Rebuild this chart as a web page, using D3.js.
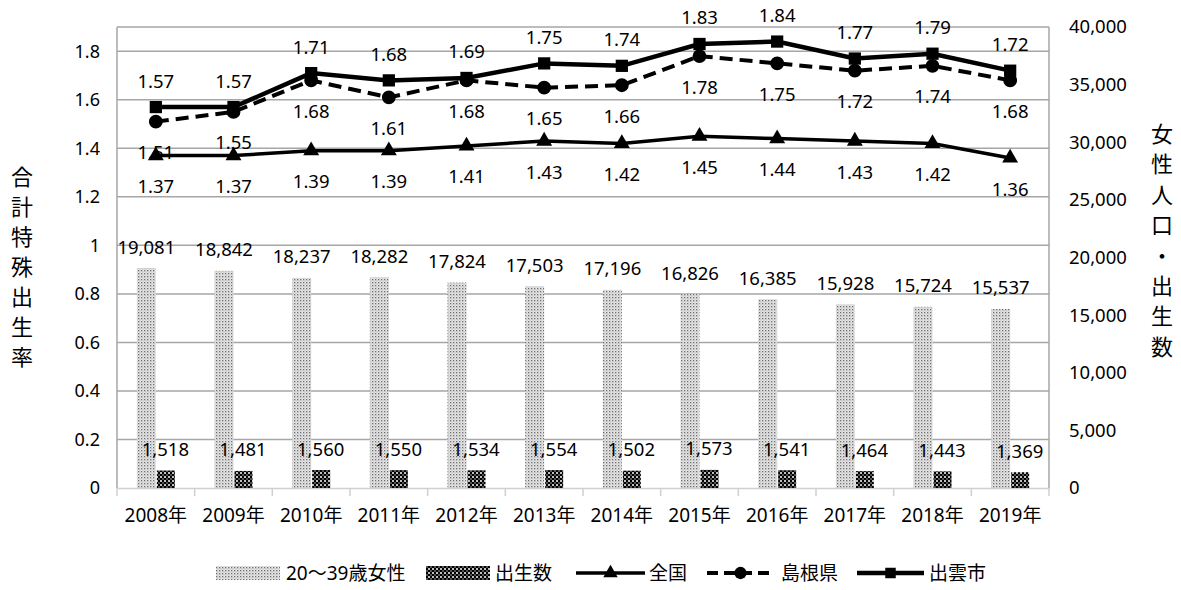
<!DOCTYPE html>
<html>
<head>
<meta charset="utf-8">
<script src="https://cdn.jsdelivr.net/npm/d3@7"></script>
<style>
  html, body { margin: 0; padding: 0; background: #fff; }
  svg { display: block; font-family: "Noto Sans", "Noto Sans CJK JP", sans-serif; }
</style>
</head>
<body>
<svg id="chart" width="1181" height="590"></svg>
<script>
// Fiscal years
const years = ["2008年","2009年","2010年","2011年","2012年","2013年","2014年","2015年","2016年","2017年","2018年","2019年"];
// Women aged 20–39 (right axis)
const women2039 = [19081, 18842, 18237, 18282, 17824, 17503, 17196, 16826, 16385, 15928, 15724, 15537];
// Births (right axis)
const births = [1518, 1481, 1560, 1550, 1534, 1554, 1502, 1573, 1541, 1464, 1443, 1369];
// Total fertility rate (left axis)
const tfrNation = [1.37, 1.37, 1.39, 1.39, 1.41, 1.43, 1.42, 1.45, 1.44, 1.43, 1.42, 1.36];
const tfrShimane = [1.51, 1.55, 1.68, 1.61, 1.68, 1.65, 1.66, 1.78, 1.75, 1.72, 1.74, 1.68];
const tfrIzumo = [1.57, 1.57, 1.71, 1.68, 1.69, 1.75, 1.74, 1.83, 1.84, 1.77, 1.79, 1.72];
// Axis ticks
const leftTicks = [0, 0.2, 0.4, 0.6, 0.8, 1, 1.2, 1.4, 1.6, 1.8];
const rightTicks = [0, 5000, 10000, 15000, 20000, 25000, 30000, 35000, 40000];

const svg = d3.select("#chart");
const L = 117, R = 1049, T = 27, B = 488;

const x = d3.scaleBand().domain(years).range([L, R]);
const yL = d3.scaleLinear().domain([0, 1.9]).range([B, T]);
const yR = d3.scaleLinear().domain([0, 40000]).range([B, T]);
const fmt = d3.format(",");
const fmtR = d3.format(".2f");

// Fill patterns for the two bar series
const defs = svg.append("defs");
const pLight = defs.append("pattern").attr("id", "pat-women")
  .attr("patternUnits", "userSpaceOnUse").attr("width", 3).attr("height", 3);
pLight.append("rect").attr("width", 3).attr("height", 3).attr("fill", "#e6e6e6");
pLight.append("rect").attr("x", 0).attr("y", 0).attr("width", 1.3).attr("height", 1.3).attr("fill", "#6e6e6e");
pLight.append("rect").attr("x", 1.5).attr("y", 1.5).attr("width", 1).attr("height", 1).attr("fill", "#a8a8a8");

const pDark = defs.append("pattern").attr("id", "pat-births")
  .attr("patternUnits", "userSpaceOnUse").attr("width", 4).attr("height", 4);
pDark.append("rect").attr("width", 4).attr("height", 4).attr("fill", "#000");
pDark.append("circle").attr("cx", 1).attr("cy", 1).attr("r", 1).attr("fill", "#fff");
pDark.append("circle").attr("cx", 3).attr("cy", 3).attr("r", 0.8).attr("fill", "#bbb");

// Gridlines on the left-axis ticks
svg.append("g").selectAll("line").data(leftTicks.filter(d => d > 0)).join("line")
  .attr("x1", L).attr("x2", R)
  .attr("y1", d => yL(d)).attr("y2", d => yL(d))
  .attr("stroke", "#a6a6a6").attr("stroke-width", 1.5);

// Plot frame
svg.append("line").attr("x1", L).attr("x2", R).attr("y1", T).attr("y2", T)
  .attr("stroke", "#a6a6a6").attr("stroke-width", 1.5);
svg.append("line").attr("x1", L).attr("x2", L).attr("y1", T).attr("y2", B)
  .attr("stroke", "#a6a6a6").attr("stroke-width", 1.5);
svg.append("line").attr("x1", R).attr("x2", R).attr("y1", T).attr("y2", B)
  .attr("stroke", "#a6a6a6").attr("stroke-width", 1.5);

// Bottom axis
const xAxis = svg.append("g").attr("transform", `translate(0,${B})`)
  .call(d3.axisBottom(x).tickSize(0).tickPadding(21));
xAxis.select(".domain").attr("stroke", "#d0d0d0").attr("stroke-width", 1.5);
xAxis.selectAll("text").attr("font-size", 19).attr("fill", "#000")
  .attr("font-family", "'Noto Sans', 'Noto Sans CJK JP', sans-serif");
const bounds = years.map(d => x(d)).concat([R]);
svg.append("g").selectAll("line").data(bounds).join("line")
  .attr("x1", d => d).attr("x2", d => d).attr("y1", B).attr("y2", B + 8)
  .attr("stroke", "#d0d0d0").attr("stroke-width", 1.5);

// Left axis
const yAxisL = svg.append("g").attr("transform", `translate(${L},0)`)
  .call(d3.axisLeft(yL).tickValues(leftTicks).tickSize(0).tickPadding(17).tickFormat(d => d3.format("")(d)));
yAxisL.select(".domain").remove();
yAxisL.selectAll("text").attr("font-size", 18).attr("fill", "#000")
  .attr("font-family", "'Noto Sans', sans-serif");

// Right axis
const yAxisR = svg.append("g").attr("transform", `translate(${R},0)`)
  .call(d3.axisRight(yR).tickValues(rightTicks).tickSize(0).tickPadding(20).tickFormat(fmt));
yAxisR.select(".domain").remove();
yAxisR.selectAll("text").attr("font-size", 18.5).attr("fill", "#000")
  .attr("font-family", "'Noto Sans', sans-serif");

// Bars: women 20–39 and births, side by side in each year
const barW = 19;
const cx = d => x(d) + x.bandwidth() / 2;
svg.append("g").selectAll("rect").data(years).join("rect")
  .attr("x", d => cx(d) - barW)
  .attr("y", (d, i) => yR(women2039[i]))
  .attr("width", barW)
  .attr("height", (d, i) => B - yR(women2039[i]))
  .attr("fill", "url(#pat-women)");
svg.append("g").selectAll("rect").data(years).join("rect")
  .attr("x", d => cx(d) + 1)
  .attr("y", (d, i) => yR(births[i]))
  .attr("width", barW - 1)
  .attr("height", (d, i) => B - yR(births[i]))
  .attr("fill", "url(#pat-births)");

// Bar value labels
const lblFont = 18.5;
svg.append("g").selectAll("text").data(years).join("text")
  .attr("x", d => cx(d) - barW / 2)
  .attr("y", (d, i) => yR(women2039[i]) - 22)
  .attr("text-anchor", "middle").attr("dominant-baseline", "central")
  .attr("font-size", lblFont)
  .text((d, i) => fmt(women2039[i]));
svg.append("g").selectAll("text").data(years).join("text")
  .attr("x", d => cx(d) + barW / 2)
  .attr("y", (d, i) => yR(births[i]) - 22)
  .attr("text-anchor", "middle").attr("dominant-baseline", "central")
  .attr("font-size", lblFont)
  .text((d, i) => fmt(births[i]));

// Fertility-rate lines
const line = d3.line().x((d, i) => cx(years[i])).y(d => yL(d));

function drawSeries(values, opts) {
  const g = svg.append("g");
  g.append("path").datum(values).attr("d", line)
    .attr("fill", "none").attr("stroke", "#000").attr("stroke-width", opts.width)
    .attr("stroke-dasharray", opts.dash || null);
  g.selectAll(".m").data(values).join("path").attr("class", "m")
    .attr("transform", (d, i) => `translate(${cx(years[i])},${yL(d)})`)
    .attr("d", d3.symbol().type(opts.symbol).size(opts.size))
    .attr("fill", "#000");
  g.selectAll("text").data(values).join("text")
    .attr("x", (d, i) => cx(years[i]))
    .attr("y", d => yL(d) + opts.labelDy)
    .attr("text-anchor", "middle").attr("dominant-baseline", "central")
    .attr("font-size", lblFont)
    .text(d => fmtR(d));
}

drawSeries(tfrNation, { width: 3.5, symbol: d3.symbolTriangle, size: 110, labelDy: 30 });
drawSeries(tfrShimane, { width: 4, dash: "13,7", symbol: d3.symbolCircle, size: 150, labelDy: 30 });
drawSeries(tfrIzumo, { width: 4.5, symbol: d3.symbolSquare, size: 150, labelDy: -27 });

// Axis titles, set vertically one character per line
const titleL = "合計特殊出生率".split("");
svg.append("g").selectAll("text").data(titleL).join("text")
  .attr("x", 22).attr("y", (d, i) => 175 + i * 30)
  .attr("text-anchor", "middle").attr("dominant-baseline", "central")
  .attr("font-size", 22).attr("font-family", "'Noto Sans CJK JP', sans-serif")
  .text(d => d);
const titleR = "女性人口・出生数".split("");
svg.append("g").selectAll("text").data(titleR).join("text")
  .attr("x", 1162).attr("y", (d, i) => 132 + i * 30.4)
  .attr("text-anchor", "middle").attr("dominant-baseline", "central")
  .attr("font-size", 22).attr("font-family", "'Noto Sans CJK JP', sans-serif")
  .text(d => d);

// Legend
const legY = 573;
const leg = svg.append("g").attr("font-size", 19);
leg.append("rect").attr("x", 216).attr("y", legY - 7).attr("width", 64).attr("height", 14).attr("fill", "url(#pat-women)");
leg.append("text").attr("x", 286).attr("y", legY).attr("dominant-baseline", "central").text("20～39歳女性");
leg.append("rect").attr("x", 426).attr("y", legY - 7).attr("width", 64).attr("height", 14).attr("fill", "url(#pat-births)");
leg.append("text").attr("x", 495).attr("y", legY).attr("dominant-baseline", "central").text("出生数");

const legLines = [
  { x0: 576, x1: 645, tx: 649, label: "全国", symbol: d3.symbolTriangle, size: 90, width: 3.5, dash: null },
  { x0: 707, x1: 774, tx: 781, label: "島根県", symbol: d3.symbolCircle, size: 120, width: 4, dash: "11,6" },
  { x0: 857, x1: 924, tx: 929, label: "出雲市", symbol: d3.symbolSquare, size: 110, width: 4.5, dash: null }
];
legLines.forEach(l => {
  leg.append("line").attr("x1", l.x0).attr("x2", l.x1).attr("y1", legY).attr("y2", legY)
    .attr("stroke", "#000").attr("stroke-width", l.width).attr("stroke-dasharray", l.dash);
  leg.append("path").attr("transform", `translate(${(l.x0 + l.x1) / 2},${legY})`)
    .attr("d", d3.symbol().type(l.symbol).size(l.size)).attr("fill", "#000");
  leg.append("text").attr("x", l.tx).attr("y", legY).attr("dominant-baseline", "central").text(l.label);
});
</script>
</body>
</html>
